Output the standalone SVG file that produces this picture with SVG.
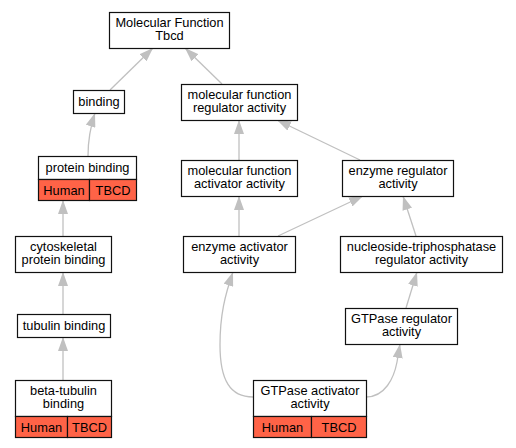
<svg xmlns="http://www.w3.org/2000/svg" width="516" height="448" viewBox="0 0 516 448">
<defs>
<marker id="ah" markerUnits="userSpaceOnUse" markerWidth="14" markerHeight="10" refX="14" refY="5" orient="auto"><path d="M0,0 L14,5 L0,10 z" fill="#c0c0c0"/></marker>
<style>
.b{fill:#fff;stroke:#111;stroke-width:1.2}
.h{fill:#ff6347;stroke:#111;stroke-width:1.2}
text{font-family:"Liberation Sans",Arial,sans-serif;font-size:12.8px;fill:#000;text-anchor:middle}
.e{fill:none;stroke:#c0c0c0;stroke-width:1.3;marker-end:url(#ah)}
</style>
</defs>
<rect width="516" height="448" fill="#fff"/>
<g id="edges">
<path class="e" d="M110,90 L153,48"/>
<path class="e" d="M222,84 L185,48"/>
<path class="e" d="M88,156 C88,140 90,128 95,113"/>
<path class="e" d="M63,236 L63,200"/>
<path class="e" d="M63,314 L63,272"/>
<path class="e" d="M63,380 L63,337"/>
<path class="e" d="M239,160 L239,120"/>
<path class="e" d="M360,160 L277,120"/>
<path class="e" d="M239,236 L239,196"/>
<path class="e" d="M278,236 L363,196"/>
<path class="e" d="M416,236 L403,196"/>
<path class="e" d="M406,308 L417,272"/>
<path class="e" d="M253,397 C230,397 220,380 220,345 C220,315 225,295 233,272"/>
<path class="e" d="M366,397 C385,397 394,378 397,362 L400,344"/>
</g>
<g id="n_mf"><rect class="b" x="109.5" y="12.5" width="120" height="36"/><text x="169.5" y="26.5">Molecular Function</text><text x="169.5" y="39.5">Tbcd</text></g>
<g id="n_binding"><rect class="b" x="73.5" y="90.5" width="51" height="23"/><text x="99" y="105.5">binding</text></g>
<g id="n_mfreg"><rect class="b" x="181.5" y="84.5" width="116" height="36"/><text x="239.5" y="98.5">molecular function</text><text x="239.5" y="111.5">regulator activity</text></g>
<g id="n_protein"><rect class="b" x="38.5" y="156.5" width="98" height="23"/><text x="87.5" y="171.5">protein binding</text><rect class="h" x="38.5" y="179.5" width="51" height="21"/><rect class="h" x="89.5" y="179.5" width="47" height="21"/><text x="64" y="194.5">Human</text><text x="113" y="194.5">TBCD</text></g>
<g id="n_mfact"><rect class="b" x="181.5" y="160.5" width="116" height="36"/><text x="239.5" y="174.5">molecular function</text><text x="239.5" y="187.5">activator activity</text></g>
<g id="n_enzreg"><rect class="b" x="342.5" y="160.5" width="111" height="36"/><text x="398" y="174.5">enzyme regulator</text><text x="398" y="187.5">activity</text></g>
<g id="n_cyto"><rect class="b" x="15.5" y="236.5" width="96" height="36"/><text x="63.5" y="250.5">cytoskeletal</text><text x="63.5" y="263.5">protein binding</text></g>
<g id="n_enzact"><rect class="b" x="183.5" y="236.5" width="112" height="36"/><text x="239.5" y="250.5">enzyme activator</text><text x="239.5" y="263.5">activity</text></g>
<g id="n_ntp"><rect class="b" x="340.5" y="236.5" width="162" height="36"/><text x="421.5" y="250.5">nucleoside-triphosphatase</text><text x="421.5" y="263.5">regulator activity</text></g>
<g id="n_tub"><rect class="b" x="17.5" y="314.5" width="93" height="23"/><text x="64" y="329.5">tubulin binding</text></g>
<g id="n_gtpreg"><rect class="b" x="345.5" y="308.5" width="112" height="36"/><text x="401.5" y="322.5">GTPase regulator</text><text x="401.5" y="335.5">activity</text></g>
<g id="n_beta"><rect class="b" x="15.5" y="380.5" width="96" height="36"/><text x="63.5" y="394.5">beta-tubulin</text><text x="63.5" y="407.5">binding</text><rect class="h" x="15.5" y="416.5" width="52" height="21"/><rect class="h" x="67.5" y="416.5" width="44" height="21"/><text x="41.5" y="431.5">Human</text><text x="89.5" y="431.5">TBCD</text></g>
<g id="n_gtpact"><rect class="b" x="253.5" y="380.5" width="113" height="36"/><text x="310" y="394.5">GTPase activator</text><text x="310" y="407.5">activity</text><rect class="h" x="253.5" y="416.5" width="58" height="21"/><rect class="h" x="311.5" y="416.5" width="55" height="21"/><text x="282.5" y="431.5">Human</text><text x="339" y="431.5">TBCD</text></g>
</svg>
